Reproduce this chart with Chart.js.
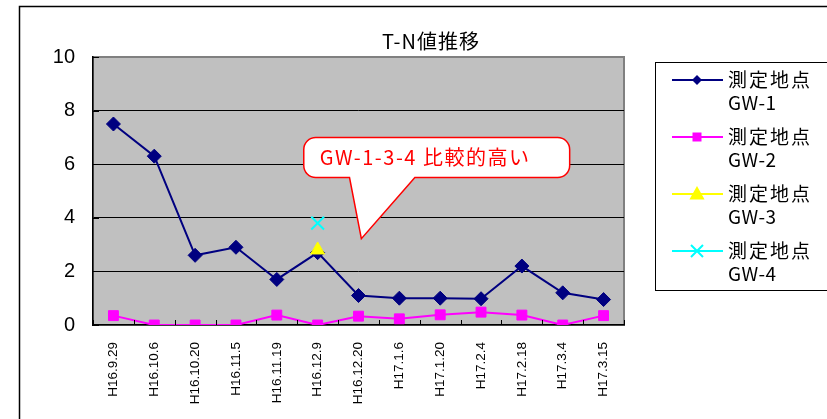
<!DOCTYPE html>
<html>
<head>
<meta charset="utf-8">
<script src="https://cdn.jsdelivr.net/npm/chart.js@4/dist/chart.umd.min.js"></script>
<style>
  html, body { margin: 0; padding: 0; background: #fff; }
</style>
</head>
<body>
<canvas id="tnChart" width="827" height="419"></canvas>
<script>
const dates = ["H16.9.29", "H16.10.6", "H16.10.20", "H16.11.5", "H16.11.19", "H16.12.9", "H16.12.20",
  "H17.1.6", "H17.1.20", "H17.2.4", "H17.2.18", "H17.3.4", "H17.3.15"];
const gw1 = [7.5, 6.3, 2.6, 2.9, 1.7, 2.7, 1.1, 1.0, 1.0, 0.98, 2.2, 1.2, 0.95];
const gw2 = [0.35, 0, 0, 0, 0.37, 0, 0.33, 0.23, 0.38, 0.48, 0.37, 0, 0.35];
const gw3 = [null, null, null, null, null, 2.8, null, null, null, null, null, null, null];
const gw4 = [null, null, null, null, null, 3.8, null, null, null, null, null, null, null];
const seriesNames = ["GW-1", "GW-2", "GW-3", "GW-4"];
const seriesColors = ["#000080", "#FF00FF", "#FFFF00", "#00FFFF"];
const yMin = 0, yMax = 10, yStep = 2;
const titleText = "T-N値推移";
const calloutText = "GW-1-3-4 比較的高い";

const jpFont = '"Noto Sans CJK JP", "Noto Sans", sans-serif';

// draw one marker (used for legend)
function drawMarker(ctx, style, x, y, r, color) {
  ctx.save();
  ctx.fillStyle = color;
  ctx.strokeStyle = color;
  ctx.lineWidth = 2;
  ctx.beginPath();
  if (style === "rectRot") {
    ctx.moveTo(x, y - r); ctx.lineTo(x + r, y); ctx.lineTo(x, y + r); ctx.lineTo(x - r, y);
    ctx.closePath(); ctx.fill();
  } else if (style === "rect") {
    ctx.rect(x - r, y - r, 2 * r, 2 * r); ctx.fill();
  } else if (style === "triangle") {
    ctx.moveTo(x, y - r); ctx.lineTo(x + r * 0.95, y + r * 0.7); ctx.lineTo(x - r * 0.95, y + r * 0.7);
    ctx.closePath(); ctx.fill();
  } else {
    ctx.moveTo(x - r, y - r); ctx.lineTo(x + r, y + r);
    ctx.moveTo(x + r, y - r); ctx.lineTo(x - r, y + r);
    ctx.stroke();
  }
  ctx.restore();
}

const excelLook = {
  id: "excelLook",
  beforeDraw(chart) {
    const { ctx, chartArea: a } = chart;
    ctx.save();
    ctx.fillStyle = "#fff";
    ctx.fillRect(0, 0, chart.width, chart.height);
    // outer frame (clipped on right / bottom)
    ctx.strokeStyle = "#000";
    ctx.lineWidth = 1.5;
    ctx.beginPath();
    ctx.moveTo(19.5, chart.height + 2);
    ctx.lineTo(19.5, 6.5);
    ctx.lineTo(chart.width + 2, 6.5);
    ctx.stroke();
    // plot area
    ctx.fillStyle = "#C0C0C0";
    ctx.fillRect(a.left, a.top, a.right - a.left, a.bottom - a.top);
    ctx.strokeStyle = "#808080";
    ctx.lineWidth = 2;
    ctx.strokeRect(a.left, a.top, a.right - a.left, a.bottom - a.top);
    ctx.restore();
  },
  afterDraw(chart) {
    const { ctx, chartArea: a, scales } = chart;
    const x = scales.x, y = scales.y;
    ctx.save();
    // inside tick marks
    ctx.strokeStyle = "#000";
    ctx.lineWidth = 1;
    ctx.beginPath();
    for (let i = 0; i <= dates.length; i++) {
      const px = Math.round(x.getPixelForValue(i - 0.5)) + 0.5;
      ctx.moveTo(px, a.bottom);
      ctx.lineTo(px, a.bottom - 5);
    }
    for (let v = yMin; v <= yMax; v += yStep) {
      const py = Math.round(y.getPixelForValue(v)) + 0.5;
      ctx.moveTo(a.left, py);
      ctx.lineTo(a.left + 6, py);
    }
    ctx.stroke();

    // callout, anchored on the scales
    const L = x.getPixelForValue(4.66), R = x.getPixelForValue(11.17);
    const T = y.getPixelForValue(7.0), B = y.getPixelForValue(5.5);
    const b1 = x.getPixelForValue(5.78), b2 = x.getPixelForValue(7.38);
    const tipX = x.getPixelForValue(6.07), tipY = y.getPixelForValue(3.22);
    const r = 12;
    ctx.beginPath();
    ctx.moveTo(L + r, T);
    ctx.arcTo(R, T, R, B, r);
    ctx.arcTo(R, B, L, B, r);
    ctx.lineTo(b2, B);
    ctx.lineTo(tipX, tipY);
    ctx.lineTo(b1, B);
    ctx.arcTo(L, B, L, T, r);
    ctx.arcTo(L, T, R, T, r);
    ctx.closePath();
    ctx.fillStyle = "#fff";
    ctx.fill();
    ctx.strokeStyle = "#FF0000";
    ctx.lineWidth = 1.5;
    ctx.stroke();
    ctx.fillStyle = "#FF0000";
    ctx.font = "20px " + jpFont;
    ctx.textBaseline = "middle";
    ctx.textAlign = "left";
    ctx.letterSpacing = "1.5px";
    ctx.fillText(calloutText, L + 16, (T + B) / 2);

    // title
    ctx.fillStyle = "#000";
    ctx.font = "20px " + jpFont;
    ctx.letterSpacing = "1px";
    ctx.textAlign = "center";
    ctx.fillText(titleText, 431, 41);
    ctx.letterSpacing = "0px";

    // legend
    ctx.strokeStyle = "#000";
    ctx.lineWidth = 1;
    ctx.strokeRect(655.5, 62.5, 200, 228);
    const styles = ["rectRot", "rect", "triangle", "crossRot"];
    const sizes = [5, 4.5, 8, 6];
    ctx.font = "19px " + jpFont;
    ctx.textAlign = "left";
    seriesNames.forEach((name, i) => {
      const ly = 80 + 57 * i;
      ctx.strokeStyle = seriesColors[i];
      ctx.lineWidth = 2;
      ctx.beginPath();
      ctx.moveTo(672, ly);
      ctx.lineTo(723, ly);
      ctx.stroke();
      drawMarker(ctx, styles[i], 697, ly, sizes[i], seriesColors[i]);
      ctx.fillStyle = "#000";
      ctx.letterSpacing = "2px";
      ctx.fillText("測定地点", 728, ly);
      ctx.letterSpacing = "0.5px";
      ctx.fillText(name, 728, ly + 23);
    });
    ctx.restore();
  }
};

const ctx = document.getElementById("tnChart").getContext("2d");
const tnChart = new Chart(ctx, {
  type: "line",
  data: {
    labels: dates,
    datasets: [
      { label: "測定地点 GW-1", data: gw1, borderColor: seriesColors[0], backgroundColor: seriesColors[0],
        borderWidth: 2, pointStyle: "rectRot", pointRadius: 7, pointBorderWidth: 1 },
      { label: "測定地点 GW-2", data: gw2, borderColor: seriesColors[1], backgroundColor: seriesColors[1],
        borderWidth: 2, pointStyle: "rect", pointRadius: 7, pointBorderWidth: 1 },
      { label: "測定地点 GW-3", data: gw3, borderColor: seriesColors[2], backgroundColor: seriesColors[2],
        borderWidth: 2, pointStyle: "triangle", pointRadius: 8, pointBorderWidth: 1, order: -1 },
      { label: "測定地点 GW-4", data: gw4, borderColor: seriesColors[3], backgroundColor: seriesColors[3],
        borderWidth: 2, pointStyle: "crossRot", pointRadius: 9, pointBorderWidth: 2, order: -1 },
    ],
  },
  options: {
    responsive: false,
    animation: false,
    devicePixelRatio: 1,
    layout: { padding: { top: 57, right: 203, left: 0, bottom: 0 } },
    plugins: {
      legend: { display: false },
      title: { display: false },
      tooltip: { enabled: false },
    },
    scales: {
      x: {
        type: "category",
        offset: true,
        grid: { display: false },
        border: { display: true, color: "#000", width: 1.5 },
        ticks: {
          autoSkip: false,
          minRotation: 90,
          maxRotation: 90,
          padding: 9,
          color: "#000",
          font: { family: '"Liberation Sans", Arial, sans-serif', size: 13.5 },
        },
        afterFit: (scale) => { scale.height = 94; },
      },
      y: {
        min: yMin,
        max: yMax,
        ticks: {
          stepSize: yStep,
          padding: 18,
          color: "#000",
          font: { family: '"Liberation Sans", Arial, sans-serif', size: 20 },
        },
        grid: {
          drawTicks: false,
          color: (c) => (c.tick && (c.tick.value === yMax || c.tick.value === yMin) ? "rgba(0,0,0,0)" : "#000"),
          lineWidth: 1,
        },
        border: { display: true, color: "#000", width: 1.5 },
        afterFit: (scale) => { scale.width = 93; },
      },
    },
  },
  plugins: [excelLook],
});
</script>
</body>
</html>
